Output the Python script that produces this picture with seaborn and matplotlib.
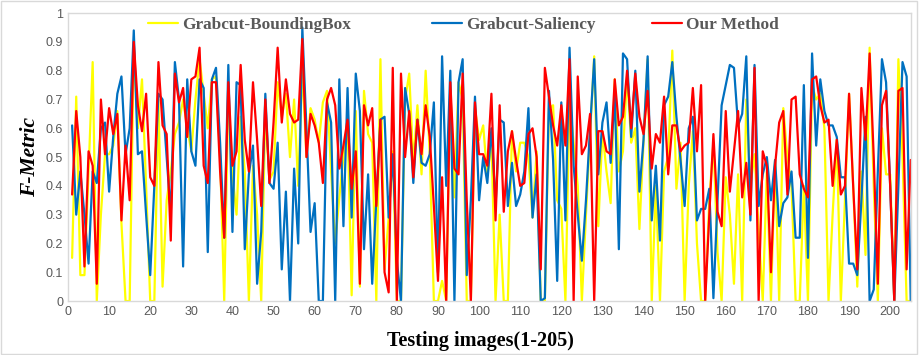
import numpy as np
import pandas as pd
import seaborn as sns
import matplotlib.pyplot as plt
from matplotlib.patches import Rectangle

# F-metric per testing image (1..205)
bbox_vals = [
    0.15, 0.71, 0.09, 0.09, 0.45, 0.83, 0.00, 0.30, 0.51, 0.51,
    0.54, 0.66, 0.27, 0.00, 0.00, 0.88, 0.60, 0.77, 0.40, 0.00,
    0.00, 0.70, 0.05, 0.35, 0.45, 0.58, 0.62, 0.70, 0.60, 0.52,
    0.70, 0.84, 0.72, 0.60, 0.77, 0.78, 0.50, 0.00, 0.72, 0.44,
    0.30, 0.64, 0.45, 0.00, 0.47, 0.30, 0.00, 0.66, 0.42, 0.45,
    0.76, 0.64, 0.72, 0.50, 0.70, 0.40, 0.81, 0.50, 0.67, 0.63,
    0.55, 0.69, 0.73, 0.45, 0.20, 0.36, 0.50, 0.62, 0.02, 0.66,
    0.05, 0.73, 0.58, 0.55, 0.00, 0.84, 0.11, 0.29, 0.52, 0.00,
    0.00, 0.70, 0.79, 0.48, 0.68, 0.44, 0.80, 0.51, 0.00, 0.00,
    0.07, 0.00, 0.74, 0.36, 0.76, 0.70, 0.00, 0.00, 0.67, 0.56,
    0.61, 0.43, 0.56, 0.00, 0.30, 0.00, 0.00, 0.59, 0.45, 0.55,
    0.55, 0.50, 0.29, 0.52, 0.00, 0.00, 0.67, 0.68, 0.35, 0.32,
    0.00, 0.70, 0.55, 0.40, 0.00, 0.30, 0.58, 0.85, 0.26, 0.59,
    0.45, 0.34, 0.77, 0.45, 0.52, 0.78, 0.55, 0.60, 0.25, 0.55,
    0.84, 0.00, 0.40, 0.00, 0.45, 0.50, 0.87, 0.39, 0.55, 0.00,
    0.40, 0.59, 0.20, 0.00, 0.00, 0.35, 0.55, 0.17, 0.00, 0.43,
    0.30, 0.06, 0.44, 0.00, 0.70, 0.40, 0.51, 0.25, 0.00, 0.45,
    0.00, 0.49, 0.00, 0.67, 0.50, 0.40, 0.00, 0.00, 0.40, 0.00,
    0.75, 0.70, 0.72, 0.60, 0.00, 0.30, 0.56, 0.00, 0.35, 0.72,
    0.40, 0.05, 0.45, 0.16, 0.88, 0.40, 0.00, 0.60, 0.44, 0.44,
    0.00, 0.84, 0.50, 0.00, 0.00,
]

saliency_vals = [
    0.61, 0.30, 0.45, 0.30, 0.13, 0.45, 0.41, 0.60, 0.62, 0.38,
    0.57, 0.72, 0.78, 0.51, 0.60, 0.94, 0.51, 0.52, 0.30, 0.09,
    0.40, 0.72, 0.70, 0.50, 0.30, 0.83, 0.70, 0.12, 0.77, 0.52,
    0.47, 0.77, 0.74, 0.17, 0.77, 0.81, 0.55, 0.22, 0.82, 0.24,
    0.76, 0.75, 0.18, 0.44, 0.54, 0.06, 0.24, 0.72, 0.41, 0.39,
    0.55, 0.11, 0.38, 0.00, 0.46, 0.20, 0.95, 0.60, 0.24, 0.34,
    0.00, 0.00, 0.69, 0.62, 0.00, 0.77, 0.26, 0.74, 0.29, 0.79,
    0.66, 0.18, 0.44, 0.06, 0.35, 0.63, 0.64, 0.29, 0.51, 0.14,
    0.00, 0.74, 0.65, 0.41, 0.63, 0.48, 0.47, 0.51, 0.69, 0.10,
    0.85, 0.40, 0.80, 0.00, 0.76, 0.84, 0.09, 0.35, 0.71, 0.35,
    0.50, 0.41, 0.60, 0.33, 0.63, 0.62, 0.33, 0.48, 0.33, 0.37,
    0.45, 0.67, 0.29, 0.44, 0.00, 0.01, 0.73, 0.49, 0.07, 0.69,
    0.28, 0.88, 0.47, 0.30, 0.14, 0.35, 0.60, 0.84, 0.44, 0.62,
    0.69, 0.48, 0.72, 0.18, 0.86, 0.84, 0.57, 0.80, 0.38, 0.56,
    0.85, 0.28, 0.47, 0.21, 0.68, 0.71, 0.83, 0.64, 0.49, 0.33,
    0.60, 0.64, 0.28, 0.32, 0.32, 0.39, 0.01, 0.35, 0.68, 0.75,
    0.82, 0.81, 0.61, 0.65, 0.85, 0.28, 0.82, 0.33, 0.44, 0.50,
    0.35, 0.49, 0.26, 0.34, 0.36, 0.45, 0.22, 0.22, 0.75, 0.15,
    0.86, 0.54, 0.77, 0.66, 0.61, 0.61, 0.57, 0.43, 0.43, 0.13,
    0.13, 0.09, 0.35, 0.64, 0.00, 0.04, 0.45, 0.84, 0.76, 0.40,
    0.00, 0.40, 0.83, 0.78, 0.00,
]

ours_vals = [
    0.37, 0.66, 0.50, 0.12, 0.52, 0.47, 0.06, 0.70, 0.51, 0.67,
    0.58, 0.65, 0.28, 0.54, 0.35, 0.90, 0.68, 0.59, 0.72, 0.43,
    0.40, 0.83, 0.61, 0.58, 0.21, 0.79, 0.69, 0.74, 0.57, 0.77,
    0.78, 0.88, 0.47, 0.41, 0.76, 0.76, 0.45, 0.22, 0.76, 0.47,
    0.52, 0.82, 0.56, 0.45, 0.76, 0.56, 0.33, 0.70, 0.41, 0.62,
    0.88, 0.62, 0.77, 0.65, 0.62, 0.63, 0.91, 0.50, 0.65, 0.61,
    0.55, 0.41, 0.70, 0.74, 0.68, 0.46, 0.54, 0.63, 0.39, 0.52,
    0.06, 0.68, 0.61, 0.67, 0.33, 0.63, 0.10, 0.03, 0.81, 0.00,
    0.79, 0.50, 0.66, 0.43, 0.63, 0.51, 0.68, 0.57, 0.33, 0.07,
    0.43, 0.00, 0.76, 0.46, 0.44, 0.79, 0.35, 0.00, 0.69, 0.51,
    0.51, 0.47, 0.72, 0.28, 0.68, 0.31, 0.52, 0.59, 0.49, 0.40,
    0.41, 0.58, 0.60, 0.50, 0.11, 0.81, 0.71, 0.61, 0.54, 0.68,
    0.54, 0.84, 0.00, 0.78, 0.51, 0.54, 0.65, 0.00, 0.59, 0.59,
    0.52, 0.51, 0.77, 0.61, 0.64, 0.80, 0.60, 0.79, 0.64, 0.58,
    0.73, 0.46, 0.58, 0.55, 0.71, 0.44, 0.61, 0.61, 0.52, 0.54,
    0.55, 0.74, 0.52, 0.75, 0.00, 0.30, 0.58, 0.31, 0.26, 0.66,
    0.38, 0.52, 0.66, 0.36, 0.48, 0.30, 0.81, 0.00, 0.52, 0.47,
    0.10, 0.47, 0.62, 0.66, 0.37, 0.70, 0.71, 0.44, 0.39, 0.36,
    0.77, 0.78, 0.68, 0.62, 0.63, 0.40, 0.56, 0.37, 0.40, 0.72,
    0.40, 0.11, 0.74, 0.56, 0.86, 0.50, 0.06, 0.68, 0.73, 0.40,
    0.00, 0.73, 0.74, 0.11, 0.49,
]

images = np.arange(1, 206)
series_names = ["Grabcut-BoundingBox", "Grabcut-Saliency", "Our Method"]
series_colors = ["#FFFF00", "#0070C0", "#FF0000"]

df = pd.concat([
    pd.DataFrame({"image": images, "F": bbox_vals, "method": series_names[0]}),
    pd.DataFrame({"image": images, "F": saliency_vals, "method": series_names[1]}),
    pd.DataFrame({"image": images, "F": ours_vals, "method": series_names[2]}),
])

sns.set_style("white")
plt.rcParams['font.family'] = ['Liberation Sans', 'DejaVu Sans']

fig = plt.figure(figsize=(9.19, 3.55), dpi=100)
ax = fig.add_axes([0.074, 0.152, 0.917, 0.811])

sns.lineplot(data=df, x="image", y="F", hue="method", hue_order=series_names,
             palette=dict(zip(series_names, series_colors)), linewidth=1.6,
             ax=ax, legend=False)

ax.set_xlim(0, 205)
ax.set_ylim(0, 1)
ax.set_xticks(np.arange(0, 201, 10))
ax.set_yticks(np.arange(0, 1.01, 0.1))
ax.set_yticklabels(["0", "0.1", "0.2", "0.3", "0.4", "0.5", "0.6", "0.7", "0.8", "0.9", "1"])
ax.tick_params(axis="both", labelsize=9, colors="#595959", direction="in", length=3, width=0.8)
ax.tick_params(axis="both", color="#bfbfbf")
for s in ax.spines.values():
    s.set_color("#d9d9d9")
    s.set_linewidth(1.0)

ax.set_xlabel("Testing images(1-205)", family="Liberation Serif", fontweight="bold",
              fontsize=14.5, color="black")
ax.xaxis.set_label_coords(0.489, -0.105)
ax.set_ylabel("F-Metric", family="Liberation Serif", fontweight="bold", style="italic",
              fontsize=15.5, color="black", labelpad=4)

# one legend entry per series, placed like the original chart's legend
legend_x = [0.161, 0.470, 0.709]
for name, color, lx in zip(series_names, series_colors, legend_x):
    leg = fig.legend([plt.Line2D([], [], color=color, linewidth=1.6)], [name],
                     loc="center left", bbox_to_anchor=(lx, 0.93), frameon=False,
                     borderpad=0, borderaxespad=0, handlelength=1.75, handletextpad=0.25,
                     prop={"family": "Liberation Serif", "weight": "bold", "size": 12.4},
                     labelcolor="#595959")

fig.add_artist(Rectangle((0.001, 0.002), 0.997, 0.995, transform=fig.transFigure,
                         fill=False, edgecolor="#d9d9d9", linewidth=1.0))

fig.savefig("out.png", dpi=100)
